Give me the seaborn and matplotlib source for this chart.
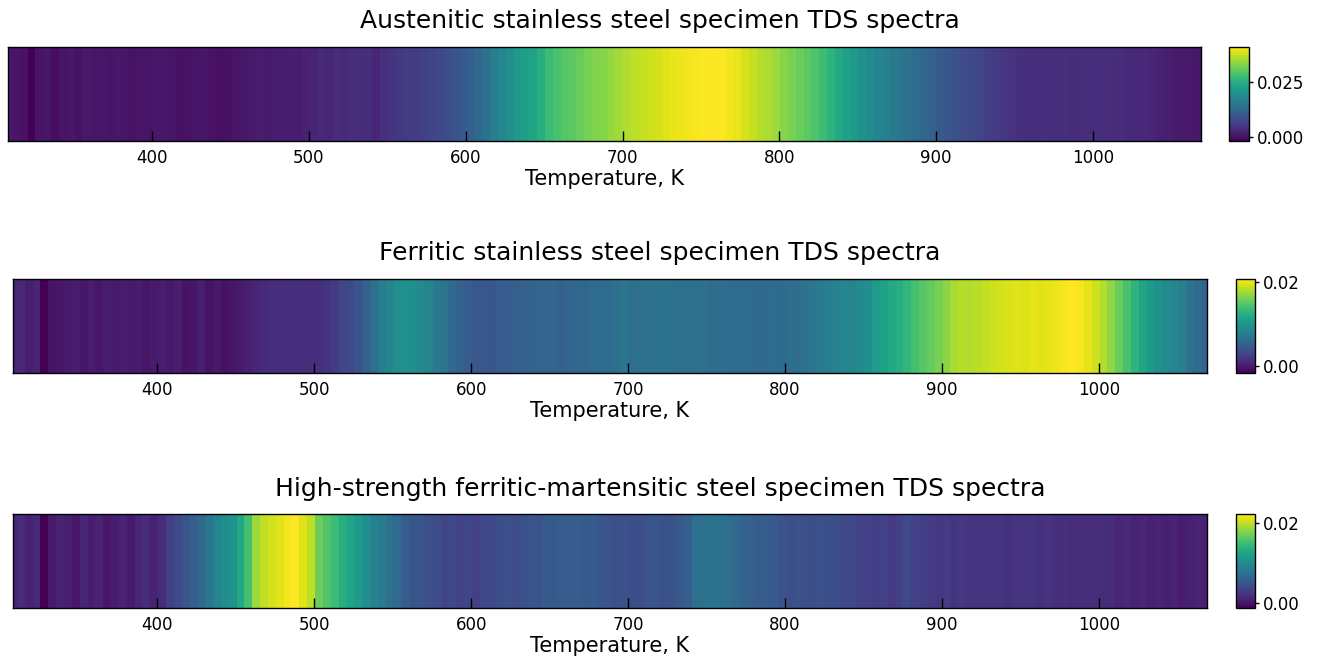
import numpy as np
import seaborn as sns
import matplotlib.pyplot as plt

# TDS intensity read every 5 K, first value at 308 K
start_temp = 308
end_temp = 1069
step_temp = 5
temp_ticks = [400, 500, 600, 700, 800, 900, 1000]

austenitic = [
    .0010, .0006, .0002, -.0018, .0004, .0008, -.0004, .0004, .0008, .0002,
    .0010, .0006, .0008, .0004, .0008, .0006, .0002, .0006, .0004, .0008,
    .0008, .0004, .0000, .0002, .0004, .0006, .0002, -.0002, .0000, .0004,
    .0008, .0012, .0014, .0012, .0016, .0014, .0018, .0016, .0022, .0024,
    .0030, .0028, .0034, .0030, .0036, .0034, .0038, .0028, .0042, .0048,
    .0052, .0056, .0058, .0064, .0068, .0076, .0082, .0090, .0102, .0112,
    .0124, .0142, .0162, .0180, .0194, .0212, .0222, .0232, .0252, .0272,
    .0286, .0296, .0302, .0310, .0322, .0328, .0332, .0342, .0350, .0358,
    .0366, .0372, .0376, .0382, .0388, .0394, .0398, .0402, .0405, .0407,
    .0409, .0406, .0402, .0394, .0382, .0372, .0362, .0354, .0344, .0332,
    .0322, .0312, .0302, .0290, .0274, .0258, .0240, .0226, .0212, .0196,
    .0186, .0176, .0168, .0156, .0150, .0140, .0130, .0120, .0112, .0100,
    .0094, .0088, .0080, .0074, .0068, .0062, .0056, .0050, .0046, .0042,
    .0040, .0038, .0042, .0036, .0038, .0040, .0034, .0038, .0036, .0038,
    .0036, .0034, .0036, .0032, .0030, .0032, .0026, .0022, .0018, .0012,
    .0012, .0010, .0008,
]
ferritic = [
    .0006, .0008, .0002, .0005, -.0017, -.0006, -.0004, -.0002, .0001, -.0004,
    .0000, -.0004, .0001, -.0002, .0000, -.0003, .0001, -.0004, -.0002, .0000,
    -.0003, .0002, -.0006, -.0004, .0002, -.0006, -.0003, -.0007, -.0004, -.0002,
    .0003, .0006, .0010, .0011, .0013, .0012, .0014, .0012, .0011, .0013,
    .0018, .0022, .0028, .0032, .0040, .0052, .0064, .0078, .0084, .0092,
    .0096, .0094, .0088, .0084, .0074, .0068, .0060, .0052, .0048, .0044,
    .0044, .0042, .0046, .0048, .0050, .0051, .0053, .0055, .0054, .0056,
    .0052, .0056, .0058, .0056, .0060, .0062, .0060, .0064, .0070, .0064,
    .0066, .0068, .0066, .0068, .0066, .0064, .0066, .0064, .0066, .0062,
    .0064, .0062, .0060, .0062, .0060, .0058, .0060, .0062, .0060, .0064,
    .0062, .0066, .0070, .0076, .0078, .0082, .0086, .0084, .0090, .0094,
    .0106, .0110, .0118, .0122, .0130, .0140, .0148, .0154, .0160, .0168,
    .0178, .0182, .0180, .0184, .0186, .0190, .0192, .0194, .0196, .0194,
    .0198, .0196, .0198, .0200, .0204, .0207, .0204, .0198, .0190, .0180,
    .0170, .0156, .0142, .0128, .0114, .0104, .0096, .0090, .0086, .0080,
    .0066, .0060, .0055,
]
martensitic = [
    .0012, .0016, .0010, .0014, -.00125, .0004, .0010, .0008, .0002, .0012,
    .0006, .0010, .0002, .0006, .0010, .0004, .0012, .0016, .0010, .0016,
    .0032, .0040, .0050, .0058, .0066, .0080, .0094, .0102, .0108, .0128,
    .0152, .0187, .0200, .0206, .0212, .0218, .02225, .0211, .0199, .0170,
    .0158, .0148, .0136, .0126, .0116, .0104, .0092, .0084, .0074, .0068,
    .0056, .0050, .0050, .0044, .0042, .0036, .0038, .0034, .0036, .0032,
    .0038, .0040, .0044, .0046, .0042, .0046, .0050, .0048, .0054, .0052,
    .0056, .0054, .0056, .0052, .0054, .0050, .0048, .0044, .0046, .0042,
    .0044, .0048, .0050, .0046, .0048, .0052, .0058, .0072, .0076, .0078,
    .0074, .0072, .0068, .0062, .0060, .0056, .0054, .0052, .0048, .0044,
    .0048, .0044, .0042, .0046, .0044, .0042, .0038, .0040, .0034, .0032,
    .0030, .0032, .0028, .0032, .0038, .0032, .0030, .0028, .0026, .0028,
    .0024, .0026, .0024, .0022, .0024, .0022, .0024, .0020, .0024, .0022,
    .0024, .0020, .0022, .0018, .0020, .0016, .0018, .0016, .0018, .0016,
    .0016, .0012, .0014, .0010, .0012, .0008, .0010, .0008, .0010, .0006,
    .0008, .0010, .0008,
]

titles = ['Austenitic stainless steel specimen TDS spectra',
          'Ferritic stainless steel specimen TDS spectra',
          'High-strength ferritic-martensitic steel specimen TDS spectra']
spectra = [austenitic, ferritic, martensitic]
cbar_ticks = [[0.0, 0.025], [0.0, 0.02], [0.0, 0.02]]
cbar_fmt = ['%.3f', '%.2f', '%.2f']

W, H = 1322, 661
# axes boxes in pixels: left, top, right, bottom
ax_boxes = [(8, 47, 1201, 141), (13, 279, 1207, 373), (13, 514, 1207, 608)]
cbar_boxes = [(1229, 47, 1249, 141), (1236, 279, 1255, 373), (1236, 514, 1255, 608)]
title_pads = [14, 14, 13]


def to_rect(box):
    left, top, right, bottom = box
    return [left / W, 1 - bottom / H, (right - left) / W, (bottom - top) / H]


fig = plt.figure(figsize=(W / 100, H / 100), dpi=100)

for i, values in enumerate(spectra):
    ax = fig.add_axes(to_rect(ax_boxes[i]))
    cax = fig.add_axes(to_rect(cbar_boxes[i]))
    sns.heatmap(np.array([values]), ax=ax, cbar_ax=cax, cmap='viridis',
                xticklabels=False, yticklabels=False,
                cbar_kws={'ticks': cbar_ticks[i], 'format': cbar_fmt[i]})

    # cells are centred on their temperature
    ax.set_xlim(0.5, (end_temp - start_temp) / step_temp + 0.5)
    ax.set_xticks([(t - start_temp) / step_temp + 0.5 for t in temp_ticks])
    ax.set_xticklabels(temp_ticks, fontsize=12)
    ax.tick_params(axis='x', direction='in', length=7, width=1, pad=6)
    ax.set_xlabel('Temperature, K', fontsize=15, labelpad=1.5)
    # titles sit on the figure centre, not on the axes centre
    left, top, right, bottom = ax_boxes[i]
    ax.set_title(titles[i], fontsize=18, pad=title_pads[i],
                 x=(660 - left) / (right - left))
    for spine in ax.spines.values():
        spine.set_visible(True)
        spine.set_linewidth(1)

    cax.tick_params(labelsize=12, length=3, width=1, pad=3)
    cbar = ax.collections[0].colorbar
    cbar.outline.set_visible(True)
    cbar.outline.set_linewidth(1)

plt.savefig('out.png', dpi=100)
plt.close()
